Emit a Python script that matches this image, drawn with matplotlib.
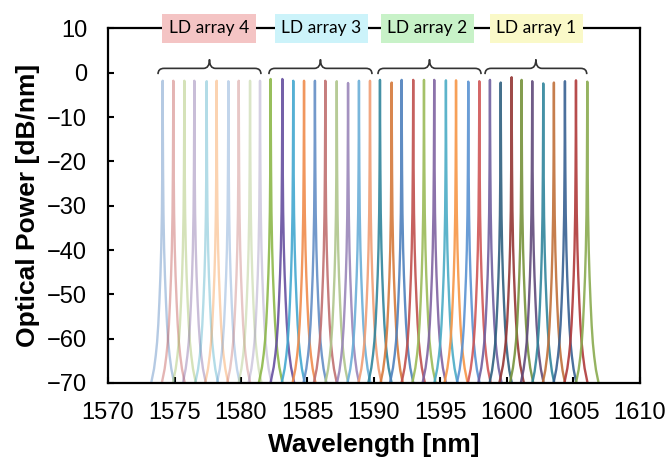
import numpy as np
import matplotlib
matplotlib.use("Agg")
import matplotlib.pyplot as plt
from matplotlib.path import Path
from matplotlib.patches import PathPatch

# peak wavelengths [nm], grouped by LD array (4 -> 1)
centers = [
    1574.11, 1574.91, 1575.74, 1576.49, 1577.42, 1578.17, 1579.05, 1579.83, 1580.68, 1581.43,
    1582.23, 1583.11, 1583.93, 1584.74, 1585.56, 1586.34, 1587.20, 1588.05, 1588.87, 1589.70,
    1590.45, 1591.33, 1592.08, 1592.95, 1593.76, 1594.53, 1595.41, 1596.17, 1597.09, 1597.92,
    1598.72, 1599.53, 1600.35, 1601.10, 1601.90, 1602.73, 1603.53, 1604.36, 1605.19, 1606.04,
]
# peak power [dB/nm]
peaks = [
    -1.8, -1.8, -1.8, -1.8, -1.9, -1.8, -1.9, -1.8, -1.8, -1.8,
    -1.4, -1.4, -1.8, -1.8, -1.8, -1.8, -1.9, -2.3, -1.8, -1.8,
    -1.6, -2.2, -1.6, -1.6, -1.6, -1.6, -1.7, -1.7, -2.0, -1.9,
    -1.6, -2.2, -1.0, -1.6, -1.9, -2.4, -2.2, -1.9, -1.7, -2.0,
]
line_colors = [
    "#4F81BD", "#C0504D", "#9BBB59", "#8064A2", "#4BACC6", "#F79646", "#6F9BD0", "#C87A78", "#A9C27A", "#9A8DBA",
    "#8DB84A", "#6650A0", "#43A8D0", "#F08C4C", "#648EC6", "#C07070", "#AFC68C", "#9A86BA", "#6AAED8", "#F09E74",
    "#31859C", "#D57A3C", "#4F81BD", "#C0504D", "#9BBB59", "#8064A2", "#4BACC6", "#F79646", "#5A92D2", "#D05656",
    "#7060A0", "#2F6080", "#953735", "#77933C", "#604A7B", "#31859C", "#C0703A", "#376092", "#B03A3A", "#8AAB50",
]
line_alpha = [0.42] * 10 + [0.9] * 30

# shared line shape: offset from peak [nm] vs drop below peak [dB]
shape_offset = [0.0, 0.012, 0.03, 0.06, 0.11, 0.17, 0.25, 0.33, 0.42, 0.52, 0.65, 0.85, 1.0, 1.3]
shape_drop = [0, -10, -20, -30, -38, -44, -50, -55, -59, -62, -65, -68, -70, -74]

array_labels = ["LD array 4", "LD array 3", "LD array 2", "LD array 1"]
label_x = [1577.59, 1586.05, 1594.02, 1602.22]
label_colors = ["#F4C4C4", "#CCF3FA", "#C8F2C8", "#FAF9C8"]
brace_span = [(1573.76, 1581.5), (1582.1, 1589.85), (1590.3, 1598.05), (1598.35, 1606.0)]

off = np.array(shape_offset)
drop = np.array(shape_drop)
prof_x = np.concatenate([-off[::-1], off[1:]])
prof_y = np.concatenate([drop[::-1], drop[1:]])

plt.rcParams["font.family"] = ["Liberation Sans", "DejaVu Sans"]
fig = plt.figure(figsize=(6.68, 4.58), dpi=100)
ax = fig.add_axes([0.1617, 0.1638, 0.958 - 0.1617, 0.9378 - 0.1638])

for c, p, col, a in zip(centers, peaks, line_colors, line_alpha):
    ax.plot(c + prof_x, p + prof_y, color=col, alpha=a, lw=1.7, solid_capstyle="round")


def brace(ax, x0, x1, y_end=-0.3, y_arm=1.0, y_tip=3.0, r=0.45):
    xm = (x0 + x1) / 2
    verts = [
        (x0, y_end), (x0, y_arm), (x0 + r, y_arm),
        (xm - r, y_arm), (xm, y_arm), (xm, y_tip),
        (xm, y_arm), (xm + r, y_arm),
        (x1 - r, y_arm), (x1, y_arm), (x1, y_end),
    ]
    codes = [Path.MOVETO, Path.CURVE3, Path.CURVE3,
             Path.LINETO, Path.CURVE3, Path.CURVE3,
             Path.CURVE3, Path.CURVE3,
             Path.LINETO, Path.CURVE3, Path.CURVE3]
    ax.add_patch(PathPatch(Path(verts, codes), fill=False, lw=1.2, ec="#333333", clip_on=False))


for (x0, x1) in brace_span:
    brace(ax, x0, x1)

for txt, x, col in zip(array_labels, label_x, label_colors):
    ax.text(x, 10, txt, ha="center", va="center", fontsize=12.5, family=["Lato", "DejaVu Sans"],
            color="black", zorder=5, clip_on=False,
            bbox=dict(boxstyle="square,pad=0.38", fc=col, ec="none"))

ax.set_xlim(1570, 1610)
ax.set_ylim(-70, 10)
ax.set_xticks(range(1570, 1611, 5))
ax.set_yticks(range(-70, 11, 10))
for s in ax.spines.values():
    s.set_linewidth(1.6)
ax.tick_params(direction="in", length=4.5, width=1.5, labelsize=17, top=False, right=False)
ax.tick_params(axis="x", pad=14)
ax.tick_params(axis="y", pad=15)
ax.set_xlabel("Wavelength [nm]", fontsize=19, fontweight="bold", labelpad=6)
ax.set_ylabel("Optical Power [dB/nm]", fontsize=19, fontweight="bold", labelpad=5)

fig.savefig("out.png", dpi=100)
